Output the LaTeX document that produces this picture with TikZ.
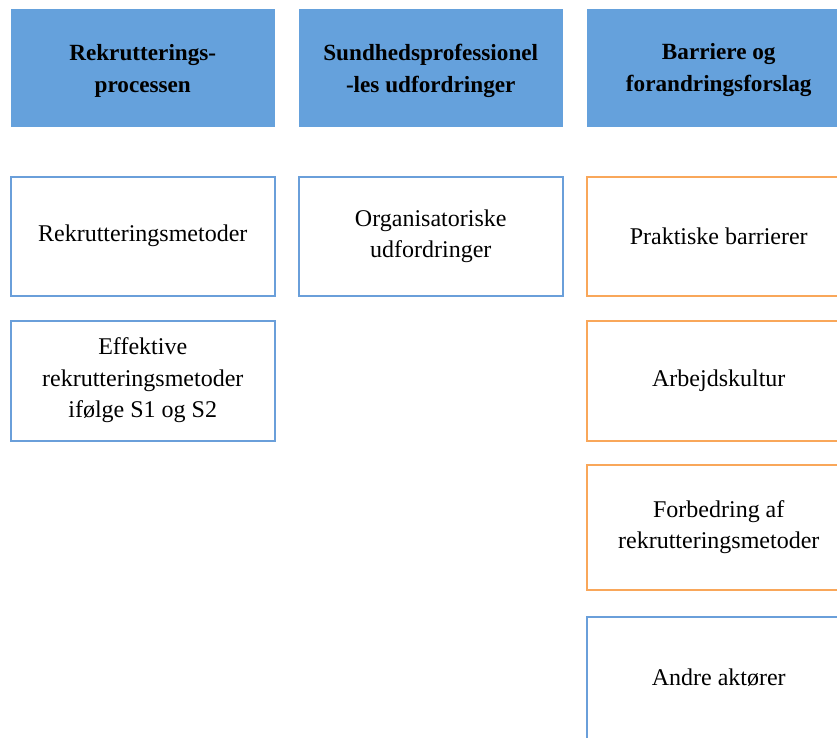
\documentclass[tikz,border=0pt]{standalone}
\usepackage{fontspec}
\setmainfont{Liberation Serif}
\definecolor{headblue}{HTML}{65A1DC}
\definecolor{lineblue}{HTML}{6A9FDA}
\definecolor{lineorange}{HTML}{F9A75A}
\tikzset{
  headbox/.style={fill=headblue, draw=none, anchor=north west, inner sep=0pt, outer sep=0pt,
    minimum width=263.5pt, minimum height=118pt},
  headtext/.style={align=center, inner sep=0pt, yshift=-2.5pt,
    font=\fontsize{23.2}{32}\selectfont\bfseries},
  itembox/.style={fill=white, draw=#1, line width=2pt, anchor=north west,
    inner sep=0pt, outer sep=0pt, minimum width=263.5pt, align=center,
    font=\fontsize{24}{31.5}\selectfont},
}
\begin{document}
\begin{tikzpicture}[x=1pt, y=-1pt]
  \useasboundingbox (0,0) rectangle (837,737);
  \clip (0,0) rectangle (837,737);
  \fill[white] (0,0) rectangle (837,737);

  % column headers
  \node[headbox] (h1) at (11,9)  {};
  \node[headbox] (h2) at (299,9) {};
  \node[headbox] (h3) at (587,9) {};
  \node[headtext] (h1t) at (h1.center) {Rekrutterings-\\processen};
  \node[headtext] (h2t) at (h2.center) {Sundhedsprofessionel\\-les udfordringer};
  \node[headtext] (h3t) at (h3.center) {Barriere og\\forandringsforslag};

  % first column
  \node[itembox=lineblue, minimum height=119.5pt] (a1) at (11,176.5) {Rekrutteringsmetoder};
  \node[itembox=lineblue, minimum height=120pt] (a2) at (11,320.5) {Effektive\\rekrutteringsmetoder\\ifølge S1 og S2};

  % second column
  \node[itembox=lineblue, minimum height=119.5pt] (b1) at (299,176.5) {Organisatoriske\\udfordringer};

  % third column
  \node[itembox=lineorange, minimum height=119.5pt] (c1) at (587,176.5) {Praktiske barrierer};
  \node[itembox=lineorange, minimum height=120pt] (c2) at (587,320.5) {Arbejdskultur};
  \node[itembox=lineorange, minimum height=125.5pt] (c3) at (587,464.5) {Forbedring af\\rekrutteringsmetoder};
  \node[itembox=lineblue, minimum height=123pt] (c4) at (587,616.5) {Andre aktører};
\end{tikzpicture}
\end{document}
